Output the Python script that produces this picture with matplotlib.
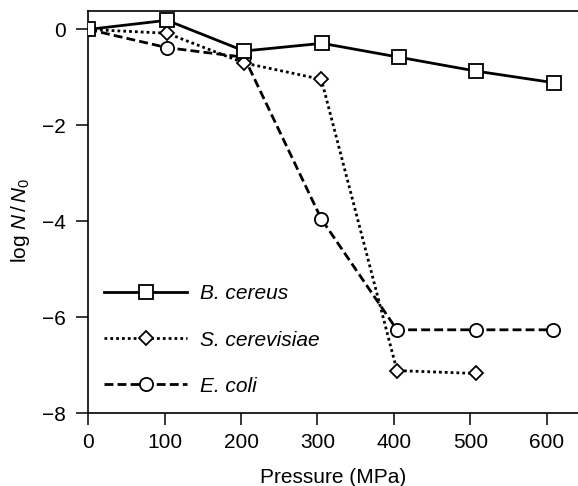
import matplotlib.pyplot as plt

plt.rcParams['font.family'] = ['Liberation Sans', 'DejaVu Sans']
plt.rcParams['mathtext.fontset'] = 'custom'
plt.rcParams['mathtext.rm'] = 'Liberation Sans'
plt.rcParams['mathtext.it'] = 'Liberation Sans:italic'

# data
p_cereus = [0, 103, 204, 306, 407, 508, 609]
logn_cereus = [0, 0.19, -0.45, -0.29, -0.58, -0.87, -1.11]

p_yeast = [0, 103, 204, 305, 404, 507]
logn_yeast = [0, -0.08, -0.70, -1.04, -7.11, -7.17]

p_coli = [0, 103, 204, 305, 404, 507, 608]
logn_coli = [0, -0.38, -0.58, -3.95, -6.26, -6.26, -6.26]

x_ticks = [0, 100, 200, 300, 400, 500, 600]
y_ticks = [0, -2, -4, -6, -8]

fig = plt.figure(figsize=(5.78, 4.86), dpi=100)
ax = fig.add_axes([0.1528, 0.1496, 0.8472, 0.8284])

mk = dict(markerfacecolor='white', markeredgecolor='black', markeredgewidth=1.3, color='black')

ax.plot(p_coli, logn_coli, linestyle=(0, (3.2, 1.5)), lw=2, marker='o', ms=9.5,
        label='E. coli', zorder=3, **mk)
ax.plot(p_yeast, logn_yeast, linestyle=(0, (1, 1.1)), lw=2, marker='D', ms=7,
        label='S. cerevisiae', zorder=4, **mk)
ax.plot(p_cereus, logn_cereus, linestyle='-', lw=2, marker='s', ms=9.5,
        label='B. cereus', zorder=5, **mk)

ax.set_xlim(0, 641)
ax.set_ylim(-8, 0.39)
ax.set_xticks(x_ticks)
ax.set_yticks(y_ticks)
ax.set_yticklabels(['0', '\u22122', '\u22124', '\u22126', '\u22128'])
ax.tick_params(direction='out', length=8.5, width=1.1, labelsize=15, pad=6)
ax.tick_params(axis='y', pad=8)
ax.spines['right'].set_visible(False)
for s in ['left', 'bottom', 'top']:
    ax.spines[s].set_linewidth(1.2)

ax.set_xlabel('Pressure (MPa)', fontsize=15)
ax.xaxis.set_label_coords(0.5, -0.135)
ax.set_ylabel(r'log $N\,/\,N_0$', fontsize=15)
ax.yaxis.set_label_coords(-0.115, 0.48)

h, l = ax.get_legend_handles_labels()
leg = ax.legend(h[::-1], l[::-1], loc='upper left', bbox_to_anchor=(0.032, 0.32),
                frameon=False, handlelength=4.0, handletextpad=0.6,
                labelspacing=1.3, borderpad=0, borderaxespad=0,
                prop={'style': 'italic', 'size': 15})

fig.savefig('out.png', dpi=100)
